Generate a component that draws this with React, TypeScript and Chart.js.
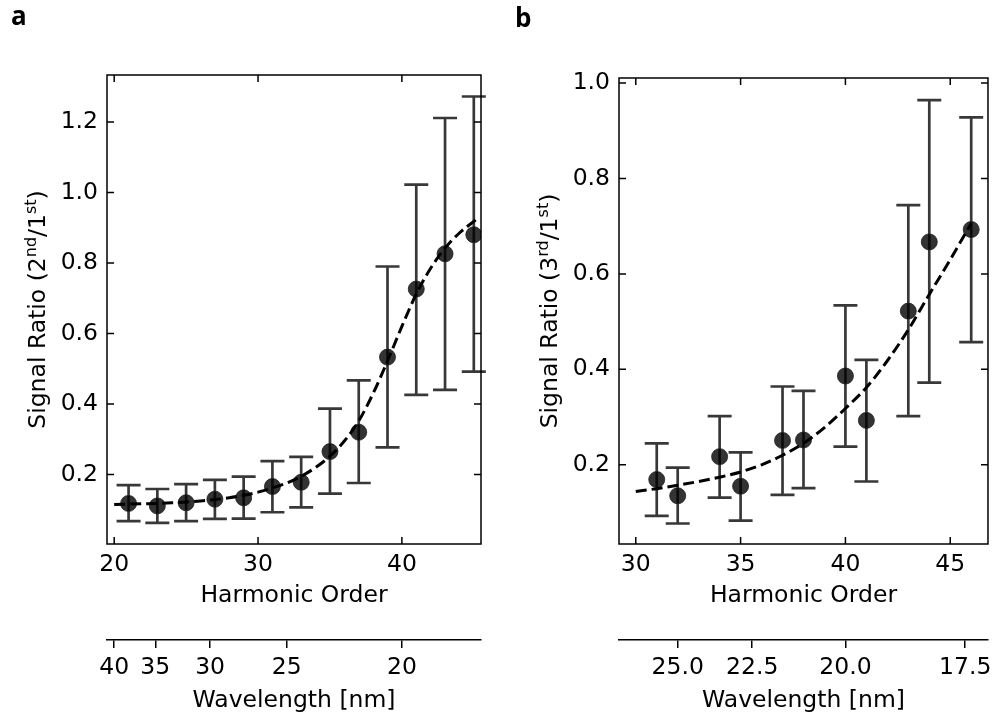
import React, { useEffect, useRef } from 'react';
import { Chart, registerables } from 'chart.js';

Chart.register(...registerables);

// ---------------- data ----------------
const DRIVER_NM = 800; // wavelength = DRIVER_NM / harmonic order

// Panel a
const harmonicsA = [21, 23, 25, 27, 29, 31, 33, 35, 37, 39, 41, 43, 45];
const ratioA = [0.118, 0.111, 0.120, 0.130, 0.134, 0.166, 0.178, 0.265, 0.320, 0.533, 0.726, 0.826, 0.880];
const upperA = [0.170, 0.159, 0.173, 0.185, 0.194, 0.238, 0.250, 0.387, 0.467, 0.790, 1.022, 1.211, 1.272];
const lowerA = [0.068, 0.063, 0.068, 0.074, 0.075, 0.093, 0.107, 0.146, 0.176, 0.277, 0.426, 0.440, 0.492];
const fitXA = [20, 21, 22, 23, 24, 25, 26, 27, 28, 29, 30, 31, 32, 33, 34, 35, 36, 37, 38, 39, 40, 41, 42, 43, 44, 45, 45.2];
const fitYA = [0.115, 0.116, 0.117, 0.118, 0.120, 0.122, 0.125, 0.129, 0.134, 0.141, 0.150, 0.162, 0.176, 0.195, 0.220, 0.252, 0.295, 0.352, 0.430, 0.522, 0.620, 0.712, 0.785, 0.842, 0.885, 0.918, 0.925];
const xTicksA = [20, 30, 40];
const yTicksA = [0.2, 0.4, 0.6, 0.8, 1.0, 1.2];
const wavelengthTicksA = [40, 35, 30, 25, 20];

// Panel b
const harmonicsB = [31, 32, 34, 35, 37, 38, 40, 41, 43, 44, 46];
const ratioB = [0.169, 0.135, 0.217, 0.155, 0.251, 0.252, 0.386, 0.293, 0.522, 0.667, 0.693];
const upperB = [0.245, 0.194, 0.302, 0.226, 0.364, 0.355, 0.534, 0.420, 0.744, 0.964, 0.928];
const lowerB = [0.093, 0.077, 0.131, 0.083, 0.137, 0.151, 0.238, 0.165, 0.302, 0.372, 0.457];
const fitXB = [30, 31, 32, 33, 34, 35, 36, 37, 38, 39, 40, 41, 42, 43, 44, 45, 46];
const fitYB = [0.144, 0.150, 0.157, 0.165, 0.174, 0.185, 0.200, 0.220, 0.245, 0.278, 0.318, 0.362, 0.418, 0.483, 0.557, 0.630, 0.706];
const xTicksB = [30, 35, 40, 45];
const yTicksB = [0.2, 0.4, 0.6, 0.8, 1.0];
const wavelengthTicksB = [25.0, 22.5, 20.0, 17.5];

// ---------------- styling ----------------
const FONT = '"DejaVu Sans", sans-serif';
const FS = 23.5;
const INK = '#000';

type Spec = {
  letter: string;
  letterX: number;
  letterY: number;
  left: number;
  harmonics: number[];
  ratio: number[];
  upper: number[];
  lower: number[];
  fitX: number[];
  fitY: number[];
  xTicks: number[];
  yTicks: number[];
  wlTicks: number[];
  wlDigits: number;
  xMin: number;
  xMax: number;
  yMin: number;
  yMax: number;
  yAxisWidth: number;
  padTop: number;
  padRight: number;
  titleBaseX: number;
  titleParts: { t: string; sup?: boolean }[];
};

const specA: Spec = {
  letter: 'a', letterX: 11, letterY: 25, left: 0,
  harmonics: harmonicsA, ratio: ratioA, upper: upperA, lower: lowerA,
  fitX: fitXA, fitY: fitYA, xTicks: xTicksA, yTicks: yTicksA,
  wlTicks: wavelengthTicksA, wlDigits: 0,
  xMin: 19.5, xMax: 45.5, yMin: 0.003, yMax: 1.333,
  yAxisWidth: 107, padTop: 75, padRight: 18, titleBaseX: 45,
  titleParts: [{ t: 'Signal Ratio (2' }, { t: 'nd', sup: true }, { t: '/1' }, { t: 'st', sup: true }, { t: ')' }],
};

const specB: Spec = {
  letter: 'b', letterX: 16, letterY: 27, left: 499,
  harmonics: harmonicsB, ratio: ratioB, upper: upperB, lower: lowerB,
  fitX: fitXB, fitY: fitYB, xTicks: xTicksB, yTicks: yTicksB,
  wlTicks: wavelengthTicksB, wlDigits: 1,
  xMin: 29.2, xMax: 46.8, yMin: 0.034, yMax: 1.0105,
  yAxisWidth: 120, padTop: 78, padRight: 6, titleBaseX: 58,
  titleParts: [{ t: 'Signal Ratio (3' }, { t: 'rd', sup: true }, { t: '/1' }, { t: 'st', sup: true }, { t: ')' }],
};

function makeConfig(spec: Spec): any {
  const font = { family: FONT, size: FS };

  const decorPlugin = {
    id: 'decor',
    beforeDatasetsDraw(chart: any) {
      const { ctx } = chart;
      const xs = chart.scales.x;
      const ys = chart.scales.y;
      ctx.save();
      ctx.strokeStyle = 'rgba(0,0,0,0.78)';
      ctx.lineWidth = 2.7;
      const cap = 12;
      spec.harmonics.forEach((h, i) => {
        const px = xs.getPixelForValue(h);
        const pu = ys.getPixelForValue(spec.upper[i]);
        const pl = ys.getPixelForValue(spec.lower[i]);
        ctx.beginPath();
        ctx.moveTo(px, pu);
        ctx.lineTo(px, pl);
        ctx.moveTo(px - cap, pu);
        ctx.lineTo(px + cap, pu);
        ctx.moveTo(px - cap, pl);
        ctx.lineTo(px + cap, pl);
        ctx.stroke();
      });
      ctx.restore();
    },
    afterDraw(chart: any) {
      const { ctx, chartArea } = chart;
      const { left, right, top, bottom } = chartArea;
      const xs = chart.scales.x;
      const ys = chart.scales.y;
      ctx.save();
      ctx.strokeStyle = INK;
      ctx.lineWidth = 1.5;
      ctx.strokeRect(left, top, right - left, bottom - top);
      const tl = 7;
      ctx.beginPath();
      xs.ticks.forEach((t: any) => {
        const px = xs.getPixelForValue(t.value);
        ctx.moveTo(px, bottom);
        ctx.lineTo(px, bottom - tl);
        ctx.moveTo(px, top);
        ctx.lineTo(px, top + tl);
      });
      ys.ticks.forEach((t: any) => {
        const py = ys.getPixelForValue(t.value);
        ctx.moveTo(left, py);
        ctx.lineTo(left + tl, py);
        ctx.moveTo(right, py);
        ctx.lineTo(right - tl, py);
      });
      ctx.stroke();

      // y-axis title with superscripts
      const cy = (top + bottom) / 2;
      ctx.translate(spec.titleBaseX, cy);
      ctx.rotate(-Math.PI / 2);
      ctx.fillStyle = INK;
      ctx.textBaseline = 'alphabetic';
      ctx.textAlign = 'left';
      const fN = `${FS}px ${FONT}`;
      const fS = `${Math.round(FS * 0.7)}px ${FONT}`;
      const widths = spec.titleParts.map((p) => {
        ctx.font = p.sup ? fS : fN;
        return ctx.measureText(p.t).width;
      });
      const total = widths.reduce((a, b) => a + b, 0);
      let x = -total / 2;
      spec.titleParts.forEach((p, i) => {
        ctx.font = p.sup ? fS : fN;
        ctx.fillText(p.t, x, p.sup ? -FS * 0.38 : 0);
        x += widths[i];
      });
      ctx.restore();

      // panel letter
      ctx.save();
      ctx.fillStyle = INK;
      ctx.font = `bold 26px "Open Sans", sans-serif`;
      ctx.textBaseline = 'alphabetic';
      ctx.textAlign = 'left';
      ctx.fillText(spec.letter, spec.letterX, spec.letterY);
      ctx.restore();
    },
  };

  return {
    type: 'scatter',
    data: {
      datasets: [
        {
          type: 'line',
          data: spec.fitX.map((x, i) => ({ x, y: spec.fitY[i] })),
          borderColor: INK,
          borderWidth: 3,
          borderDash: [11, 5],
          pointRadius: 0,
          fill: false,
          cubicInterpolationMode: 'monotone',
          order: 0,
        },
        {
          type: 'scatter',
          data: spec.harmonics.map((x, i) => ({ x, y: spec.ratio[i] })),
          pointRadius: 8,
          pointHoverRadius: 8,
          backgroundColor: 'rgba(0,0,0,0.8)',
          borderColor: 'rgba(30,30,30,0.8)',
          borderWidth: 1,
          order: 1,
        },
      ],
    },
    options: {
      animation: false,
      responsive: false,
      devicePixelRatio: 1,
      events: [],
      layout: { padding: { left: 0, right: spec.padRight, top: spec.padTop, bottom: 0 } },
      plugins: { legend: { display: false }, tooltip: { enabled: false } },
      scales: {
        x: {
          type: 'linear',
          position: 'bottom',
          min: spec.xMin,
          max: spec.xMax,
          afterBuildTicks: (s: any) => {
            s.ticks = spec.xTicks.map((v) => ({ value: v }));
          },
          afterFit: (s: any) => {
            s.height = 96;
          },
          ticks: { autoSkip: false, maxRotation: 0, padding: 7, color: INK, font, callback: (v: any) => String(v) },
          grid: { display: false, drawTicks: false },
          border: { display: false },
          title: { display: true, text: 'Harmonic Order', color: INK, font, padding: { top: 0, bottom: 29.6 } },
        },
        x2: {
          type: 'linear',
          position: 'bottom',
          min: spec.xMin,
          max: spec.xMax,
          afterBuildTicks: (s: any) => {
            s.ticks = spec.wlTicks.map((l) => ({ value: DRIVER_NM / l }));
          },
          afterFit: (s: any) => {
            s.height = 78;
          },
          ticks: {
            autoSkip: false,
            maxRotation: 0,
            padding: 6,
            color: INK,
            font,
            callback: (v: any) => (DRIVER_NM / Number(v)).toFixed(spec.wlDigits),
          },
          grid: { display: true, drawOnChartArea: false, drawTicks: true, tickLength: 8, color: INK, tickColor: INK, lineWidth: 1.5 },
          border: { display: true, color: INK, width: 1.5 },
          title: { display: true, text: 'Wavelength [nm]', color: INK, font, padding: { top: 0, bottom: 3 } },
        },
        y: {
          type: 'linear',
          position: 'left',
          min: spec.yMin,
          max: spec.yMax,
          afterBuildTicks: (s: any) => {
            s.ticks = spec.yTicks.map((v) => ({ value: v }));
          },
          afterFit: (s: any) => {
            s.width = spec.yAxisWidth;
          },
          ticks: { autoSkip: false, padding: 9, color: INK, font, callback: (v: any) => Number(v).toFixed(1) },
          grid: { display: false, drawTicks: false },
          border: { display: false },
          title: { display: false },
        },
      },
    },
    plugins: [decorPlugin],
  };
}

function Panel({ spec }: { spec: Spec }) {
  const ref = useRef<HTMLCanvasElement>(null);
  useEffect(() => {
    const chart = new Chart(ref.current as HTMLCanvasElement, makeConfig(spec));
    return () => chart.destroy();
  }, [spec]);
  return (
    <canvas
      ref={ref}
      width={499}
      height={718}
      style={{ position: 'absolute', left: spec.left, top: 0, width: 499, height: 718 }}
    />
  );
}

export default function App() {
  return (
    <div style={{ position: 'fixed', left: 0, top: 0, width: 998, height: 718, background: '#fff', overflow: 'hidden' }}>
      <Panel spec={specA} />
      <Panel spec={specB} />
    </div>
  );
}
